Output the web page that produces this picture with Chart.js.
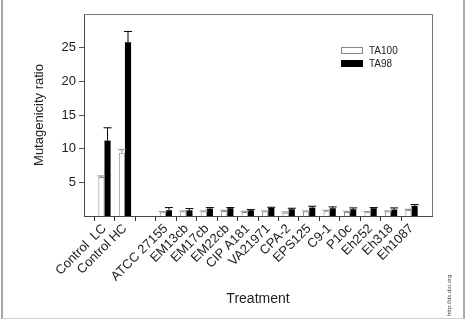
<!DOCTYPE html>
<html lang="en">
<head>
    <meta charset="UTF-8">
    <title>Mutagenicity ratio</title>
    <script src="https://cdn.jsdelivr.net/npm/chart.js"></script>
    <style>
        body { margin: 0; background: #fff; }
        #wrap { position: relative; width: 467px; height: 322px; }
        #frame { position: absolute; left: 1px; top: -2px; width: 460px; height: 320px;
                 border-left: 2px solid #a8a8a8; border-right: 2px solid #a8a8a8; border-bottom: 1px solid #d0d0d0; }
        #doi { position: absolute; left: 432px; top: 292px; font: 6px "Liberation Sans", Arial, sans-serif;
               color: #444; transform: rotate(-90deg); transform-origin: left top; white-space: nowrap; }
    </style>
</head>
<body>
    <div id="wrap">
        <canvas id="mutChart" width="467" height="322"></canvas>
        <div id="frame"></div>
        <div id="doi" style="left:446px; top:316px;">http://dx.doi.org</div>
    </div>
    <script>
        // blank slots at both ends and between controls and strains
        const categories = ['', 'Control  LC', 'Control HC', '', 'ATCC 27155', 'EM13cb', 'EM17cb', 'EM22cb',
            'CIP A181', 'VA21971', 'CPA-2', 'EPS125', 'C9-1', 'P10c', 'Eh252', 'Eh318', 'Eh1087', ''];
        const ta100 = [null, 5.8, 9.4, null, 0.55, 0.65, 0.65, 0.75, 0.6, 0.65, 0.5, 0.65, 0.7, 0.6, 0.55, 0.65, 0.9, null];
        const ta100Err = [null, 0.15, 0.45, null, 0.1, 0.1, 0.1, 0.1, 0.1, 0.1, 0.1, 0.1, 0.15, 0.1, 0.1, 0.1, 0.1, null];
        const ta98 = [null, 11.2, 25.8, null, 0.85, 0.85, 1.1, 1.15, 0.85, 1.2, 1.0, 1.25, 1.15, 1.0, 1.15, 0.95, 1.5, null];
        const ta98Err = [null, 1.9, 1.6, null, 0.4, 0.25, 0.15, 0.1, 0.1, 0.1, 0.15, 0.2, 0.2, 0.2, 0.1, 0.25, 0.2, null];
        const yTicks = [5, 10, 15, 20, 25];

        const FONT = '"Liberation Sans", Arial, sans-serif';
        const TXT = '#222';

        const errorBars = {
            id: 'errorBars',
            afterDatasetsDraw(chart) {
                const ctx = chart.ctx, y = chart.scales.y;
                const errs = [ta100Err, ta98Err];
                const cols = ['#8a8a8a', '#000'];
                chart.data.datasets.forEach((ds, di) => {
                    chart.getDatasetMeta(di).data.forEach((bar, i) => {
                        const v = ds.data[i], e = errs[di][i];
                        if (v == null || e == null) return;
                        const yTop = y.getPixelForValue(v + e);
                        const yBar = y.getPixelForValue(v);
                        ctx.save();
                        ctx.strokeStyle = cols[di];
                        ctx.lineWidth = 1;
                        ctx.beginPath();
                        ctx.moveTo(bar.x, yBar);
                        ctx.lineTo(bar.x, yTop);
                        ctx.moveTo(bar.x - 4, yTop);
                        ctx.lineTo(bar.x + 4, yTop);
                        ctx.stroke();
                        ctx.restore();
                    });
                });
            }
        };

        const frameAndLegend = {
            id: 'frameAndLegend',
            afterDraw(chart) {
                const ctx = chart.ctx, a = chart.chartArea;
                ctx.save();
                ctx.strokeStyle = '#777';
                ctx.lineWidth = 1;
                ctx.beginPath();
                ctx.moveTo(a.left, a.top + 0.5);
                ctx.lineTo(a.right + 0.5, a.top + 0.5);
                ctx.lineTo(a.right + 0.5, a.bottom);
                ctx.stroke();
                // legend
                const items = chart.data.datasets;
                items.forEach((ds, i) => {
                    const by = 47 + i * 13;
                    ctx.fillStyle = ds.backgroundColor;
                    ctx.fillRect(341, by, 22, 7);
                    ctx.strokeStyle = ds.borderColor;
                    ctx.strokeRect(341.5, by + 0.5, 21, 6);
                    ctx.fillStyle = TXT;
                    ctx.font = '10px ' + FONT;
                    ctx.textBaseline = 'middle';
                    ctx.fillText(ds.label, 369, by + 4);
                });
                ctx.restore();
            }
        };

        new Chart(document.getElementById('mutChart'), {
            type: 'bar',
            data: {
                labels: categories,
                datasets: [
                    { label: 'TA100', data: ta100, backgroundColor: '#ffffff', borderColor: '#8a8a8a', borderWidth: 1 },
                    { label: 'TA98', data: ta98, backgroundColor: '#000000', borderColor: '#000000', borderWidth: 0 }
                ]
            },
            options: {
                responsive: false,
                animation: false,
                categoryPercentage: 0.6,
                barPercentage: 1.0,
                layout: { padding: { left: 0, right: 35, top: 14, bottom: 0 } },
                plugins: { legend: { display: false }, tooltip: { enabled: false } },
                scales: {
                    x: {
                        offset: false,
                        grid: {
                            drawOnChartArea: false, drawTicks: true, tickLength: 5,
                            tickColor: (c) => (c.index === 0 || c.index === categories.length - 1) ? 'rgba(0,0,0,0)' : '#333'
                        },
                        border: { color: '#444', width: 1 },
                        ticks: { autoSkip: false, maxRotation: 45, minRotation: 45, color: TXT, font: { family: FONT, size: 13 }, padding: 0 },
                        title: { display: true, text: 'Treatment', color: TXT, font: { family: FONT, size: 14 }, padding: { top: 0, bottom: 14 } },
                        afterFit: (s) => { s.height = 106; }
                    },
                    y: {
                        min: 0, max: 30,
                        afterBuildTicks: (s) => { s.ticks = yTicks.map(v => ({ value: v })); },
                        grid: { drawOnChartArea: false, drawTicks: true, tickLength: 5, tickColor: '#555' },
                        border: { color: '#444', width: 1 },
                        ticks: { color: TXT, font: { family: FONT, size: 13 }, padding: 3 },
                        title: { display: true, text: 'Mutagenicity ratio', color: TXT, font: { family: FONT, size: 13 }, padding: { top: 32, bottom: 0 } },
                        afterFit: (s) => { s.width = 84; }
                    }
                }
            },
            plugins: [errorBars, frameAndLegend]
        });
    </script>
</body>
</html>
